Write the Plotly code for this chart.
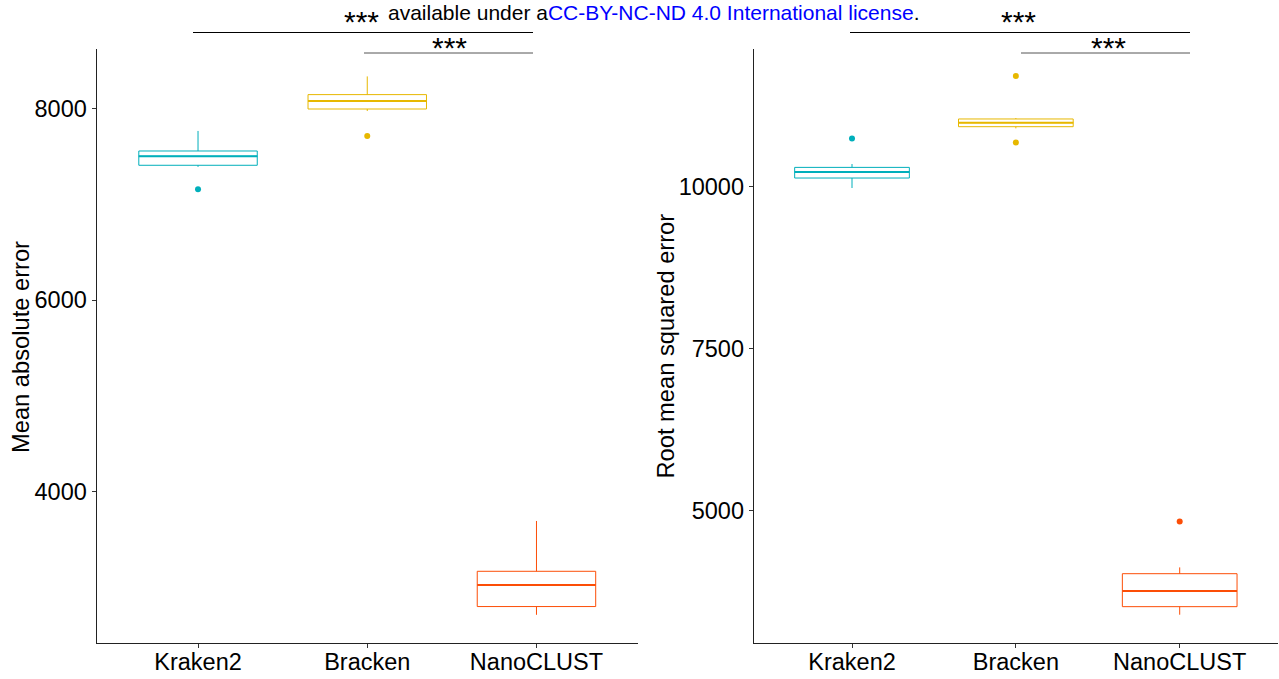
import plotly.graph_objects as go

# ---------------- data ----------------
categories = ["Kraken2", "Bracken", "NanoCLUST"]
colors = ["#00AFBB", "#E7B800", "#FC4E07"]

mae_lower = [7389, 7972, 2716]
mae_q1 = [7406, 7993, 2802]
mae_median = [7500, 8076, 3028]
mae_q3 = [7555, 8143, 3170]
mae_upper = [7764, 8333, 3695]
mae_outliers = [[7156], [7711], []]

rmse_lower = [9980, 10900, 3395]
rmse_q1 = [10134, 10926, 3519]
rmse_median = [10227, 10988, 3761]
rmse_q3 = [10298, 11045, 4028]
rmse_upper = [10350, 11060, 4125]
rmse_outliers = [[10745], [11708, 10684], [4835]]

mae_ticks = [4000, 6000, 8000]
rmse_ticks = [5000, 7500, 10000]

sig_labels = ["***", "***"]

# ---------------- layout geometry (pixels in the 1279x679 page) ----------------
W, H = 1279, 679
left_dom = [96.5 / W, 638.0 / W]
right_dom = [753.7 / W, 1278.0 / W]
y_dom = [1 - 642.7 / H, 1 - 49.0 / H]
FONT = "Liberation Sans, Arial, sans-serif"

# significance bracket placement: (x_start, x_end, line_row, label_x, label_row)
bracket_layout = [
    [(193, 533, 32.5, 361, 21), (364, 533, 53, 450, 48)],     # left panel
    [(850, 1190, 32.5, 1018, 21), (1021, 1190, 53, 1108, 48)],  # right panel
]

fig = go.Figure()


def add_panel(xa, ya, lower, q1, med, q3, upper, outliers, box_px):
    for i, cat in enumerate(categories):
        fig.add_trace(go.Box(
            x=[cat], q1=[q1[i]], median=[med[i]], q3=[q3[i]],
            lowerfence=[lower[i]], upperfence=[upper[i]],
            width=0.7, whiskerwidth=0, boxpoints=False,
            line=dict(color=colors[i], width=1),
            fillcolor="rgba(255,255,255,0)",
            xaxis=xa, yaxis=ya, hoverinfo="skip",
        ))
        # thicker median segment (as in ggplot); line-ew spans 1.4 * size
        fig.add_trace(go.Scatter(
            x=[cat], y=[med[i]], mode="markers",
            marker=dict(symbol="line-ew", size=box_px / 1.4,
                        line=dict(color=colors[i], width=2)),
            xaxis=xa, yaxis=ya, hoverinfo="skip",
        ))
        if outliers[i]:
            fig.add_trace(go.Scatter(
                x=[cat] * len(outliers[i]), y=outliers[i], mode="markers",
                marker=dict(color=colors[i], size=6),
                xaxis=xa, yaxis=ya, hoverinfo="skip",
            ))


add_panel("x", "y", mae_lower, mae_q1, mae_median, mae_q3, mae_upper,
          mae_outliers, 0.7 * (638.0 - 96.5) / 3.2)
add_panel("x2", "y2", rmse_lower, rmse_q1, rmse_median, rmse_q3, rmse_upper,
          rmse_outliers, 0.7 * (1278.0 - 753.7) / 3.2)

axis_common = dict(
    showline=True, linecolor="#222222", linewidth=1,
    ticks="outside", ticklen=4, tickcolor="#333333", tickwidth=1,
    showgrid=False, zeroline=False,
    tickfont=dict(family=FONT, size=23.5, color="black"),
)
title_font = dict(family=FONT, size=23.7, color="black")

fig.update_layout(
    width=W, height=H,
    margin=dict(l=0, r=0, t=0, b=0),
    paper_bgcolor="white", plot_bgcolor="white",
    showlegend=False,
    xaxis=dict(domain=left_dom, anchor="y", range=[-0.6, 2.6],
               categoryorder="array", categoryarray=categories,
               ticklabelstandoff=-6, **axis_common),
    yaxis=dict(domain=y_dom, anchor="x", range=[2425, 8619],
               tickvals=mae_ticks, tickformat="d", **axis_common),
    xaxis2=dict(domain=right_dom, anchor="y2", range=[-0.6, 2.6],
                categoryorder="array", categoryarray=categories,
                ticklabelstandoff=-6, **axis_common),
    yaxis2=dict(domain=y_dom, anchor="x2", range=[2963, 12125],
                tickvals=rmse_ticks, tickformat="d", **axis_common),
)

# axis titles
fig.add_annotation(xref="paper", yref="paper", x=20.5 / W, y=1 - 347.5 / H,
                   xanchor="center", yanchor="middle", textangle=-90,
                   text="Mean absolute error", showarrow=False, font=title_font)
fig.add_annotation(xref="paper", yref="paper", x=665 / W, y=1 - 346.5 / H,
                   xanchor="center", yanchor="middle", textangle=-90,
                   text="Root mean squared error", showarrow=False, font=title_font)

# significance brackets
for panel in bracket_layout:
    for k, (xs, xe, row, lx, lrow) in enumerate(panel):
        yy = 1 - row / H
        fig.add_shape(type="line", xref="paper", yref="paper",
                      x0=xs / W, x1=xe / W, y0=yy, y1=yy,
                      line=dict(color="black" if k == 0 else "#555555", width=1))
        fig.add_annotation(xref="paper", yref="paper",
                           x=lx / W, y=1 - lrow / H,
                           xanchor="center", yanchor="middle",
                           text=sig_labels[k], showarrow=False,
                           font=dict(family=FONT, size=30, color="black"))

fig.add_annotation(
    xref="paper", yref="paper", x=653.5 / W, y=1 - 12.5 / H,
    xanchor="center", yanchor="middle", showarrow=False,
    text='available under a<span style="color:#0000ff">CC-BY-NC-ND 4.0 International license</span>.',
    font=dict(family=FONT, size=21, color="black"),
)

fig.write_html("out.html")
